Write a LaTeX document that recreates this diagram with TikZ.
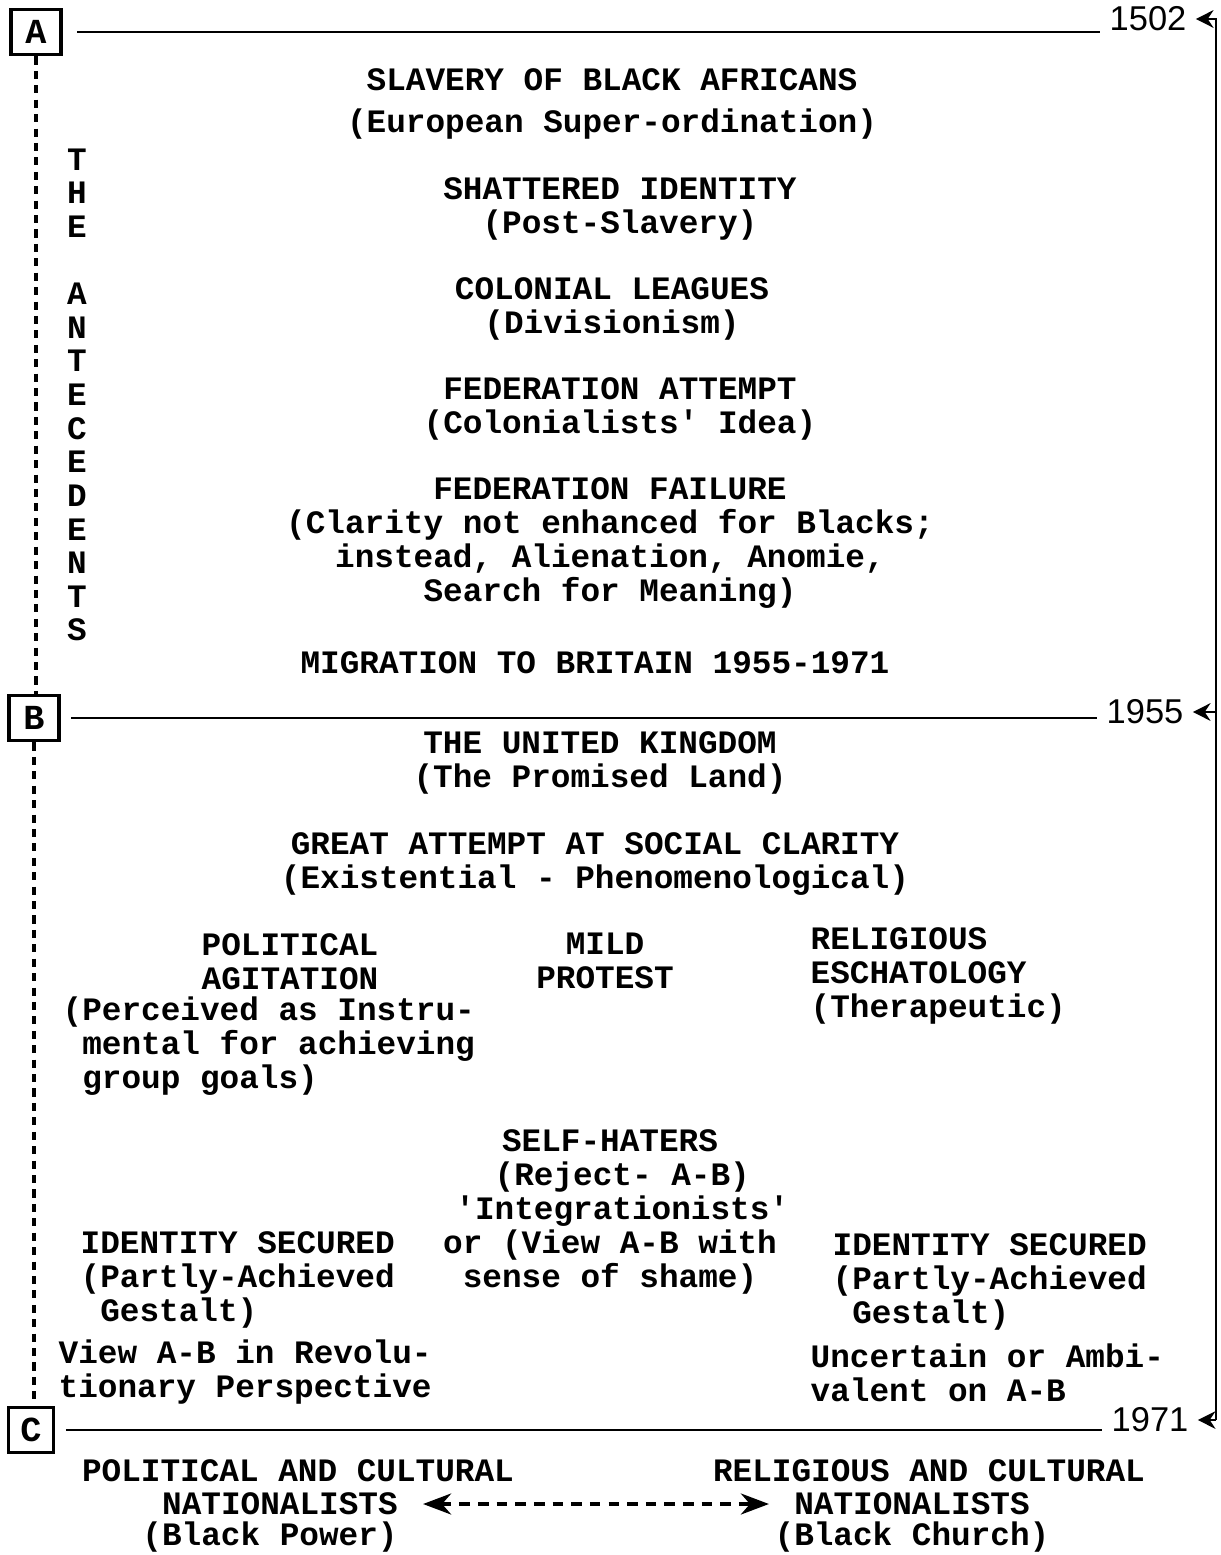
\documentclass[tikz,border=0pt]{standalone}
\usepackage{fontspec}
\setmonofont{Liberation Mono}
\newfontfamily\yearfont{Liberation Sans}
\usetikzlibrary{arrows.meta,positioning}
\tikzset{
  txt/.style={font=\ttfamily\bfseries\fontsize{9.3}{9.7}\selectfont,align=center,inner sep=0pt},
  ltxt/.style={txt,align=left,anchor=west},
  sideword/.style={font=\ttfamily\bfseries\fontsize{9.3}{9.56}\selectfont,align=center,inner sep=0pt},
  yr/.style={font=\yearfont\fontsize{9.8}{10}\selectfont,inner sep=2.5pt},
  markbox/.style={draw,line width=1.1pt,minimum width=0.5cm,minimum height=0.45cm,inner sep=0pt,
    font=\ttfamily\bfseries\fontsize{10}{10}\selectfont},
  period/.style={line width=0.75pt},
  yrarrow/.style={-{Stealth[length=5pt,width=5pt]},line width=0.75pt},
  spine/.style={line width=0.9pt,dash pattern=on 2.3pt off 1.8pt},
  link/.style={{Stealth[length=8pt,width=6pt]}-{Stealth[length=8pt,width=6pt]},line width=0.9pt,
    dash pattern=on 3pt off 2.3pt,shorten <=7pt,shorten >=7pt}
}
\begin{document}
\begin{tikzpicture}[x=0.01cm,y=-0.01cm]
\useasboundingbox (0,0) rectangle (1220,1555);

% period markers and time line
\node[markbox] (a) at (36,32) {A};
\node[markbox] (b) at (34,718) {B};
\node[markbox,minimum width=0.45cm] (c) at (31,1430) {C};
\node[yr] (y1502) at (1148,19) {1502};
\node[yr] (y1955) at (1145,712) {1955};
\node[yr] (y1971) at (1150,1420) {1971};
\coordinate (rtop) at (1216,19);
\coordinate (rbot) at (1216,1420);

\draw[period,shorten <=4pt] (a.east) -- (a.east -| y1502.west);
\draw[period,shorten <=3pt] (b.east) -- (b.east -| y1955.west);
\draw[period,shorten <=3pt] (c.east) -- (c.east -| y1971.west);
\draw[yrarrow] (rbot) -- (rtop) -- (y1502.east);
\draw[yrarrow] (y1955.east -| rtop) -- (y1955.east);
\draw[yrarrow] (rbot) -- (y1971.east);
\draw[spine] (a.south) -- (a.south |- b.north);
\draw[spine] (b.south) -- (b.south |- c.north);

% the antecedents
\node[sideword] (antecedents) at (77,395) {T\\H\\E\\[9.56pt]A\\N\\T\\E\\C\\E\\D\\E\\N\\T\\S};
\node[txt] (slavery) at (612,104) {SLAVERY OF BLACK AFRICANS\\[2.4pt](European Super-ordination)};
\node[txt] (shattered) at (620,209) {SHATTERED IDENTITY\\(Post-Slavery)};
\node[txt] (leagues) at (612,309) {COLONIAL LEAGUES\\(Divisionism)};
\node[txt] (fedattempt) at (620,409) {FEDERATION ATTEMPT\\(Colonialists' Idea)};
\node[txt] (fedfailure) at (610,543) {FEDERATION FAILURE\\(Clarity not enhanced for Blacks;\\instead, Alienation, Anomie,\\Search for Meaning)};
\node[txt] (migration) at (595,663) {MIGRATION TO BRITAIN 1955-1971};

% in the united kingdom
\node[txt] (uk) at (600,763) {THE UNITED KINGDOM\\(The Promised Land)};
\node[txt] (clarity) at (595,864) {GREAT ATTEMPT AT SOCIAL CLARITY\\(Existential - Phenomenological)};
\node[txt] (political) at (290,962) {POLITICAL\\AGITATION};
\node[ltxt] (polnote) at (62,1046) {(Perceived as Instru-\\\hphantom{(}mental for achieving\\\hphantom{(}group goals)};
\node[txt] (mild) at (605,961) {MILD\\PROTEST};
\node[ltxt] (religious) at (810,976) {RELIGIOUS\\ESCHATOLOGY\\(Therapeutic)};
\node[txt] (selfhaters) at (610,1212) {SELF-HATERS\\\hspace*{7pt}(Reject- A-B)\\\hspace*{7pt}'Integrationists'\\or (View A-B with\\sense of shame)};
\node[ltxt] (securedl) at (80,1280) {IDENTITY SECURED\\(Partly-Achieved\\\hphantom{(}Gestalt)};
\node[ltxt] (revolution) at (58,1372) {View A-B in Revolu-\\tionary Perspective};
\node[ltxt] (securedr) at (832,1282) {IDENTITY SECURED\\(Partly-Achieved\\\hphantom{(}Gestalt)};
\node[ltxt] (ambivalent) at (810,1373) {Uncertain or Ambi-\\valent on A-B};

% nationalists
\node[txt] (polcult) at (298,1471) {POLITICAL AND CULTURAL};
\node[txt] (lnat) at (280,1504) {NATIONALISTS};
\node[txt] (bpower) at (270,1537) {(Black Power)};
\node[txt] (relcult) at (929,1471) {RELIGIOUS AND CULTURAL};
\node[txt] (rnat) at (912,1504) {NATIONALISTS};
\node[txt] (bchurch) at (912,1537) {(Black Church)};
\draw[link] (lnat.east) -- (rnat.west);
\end{tikzpicture}
\end{document}
